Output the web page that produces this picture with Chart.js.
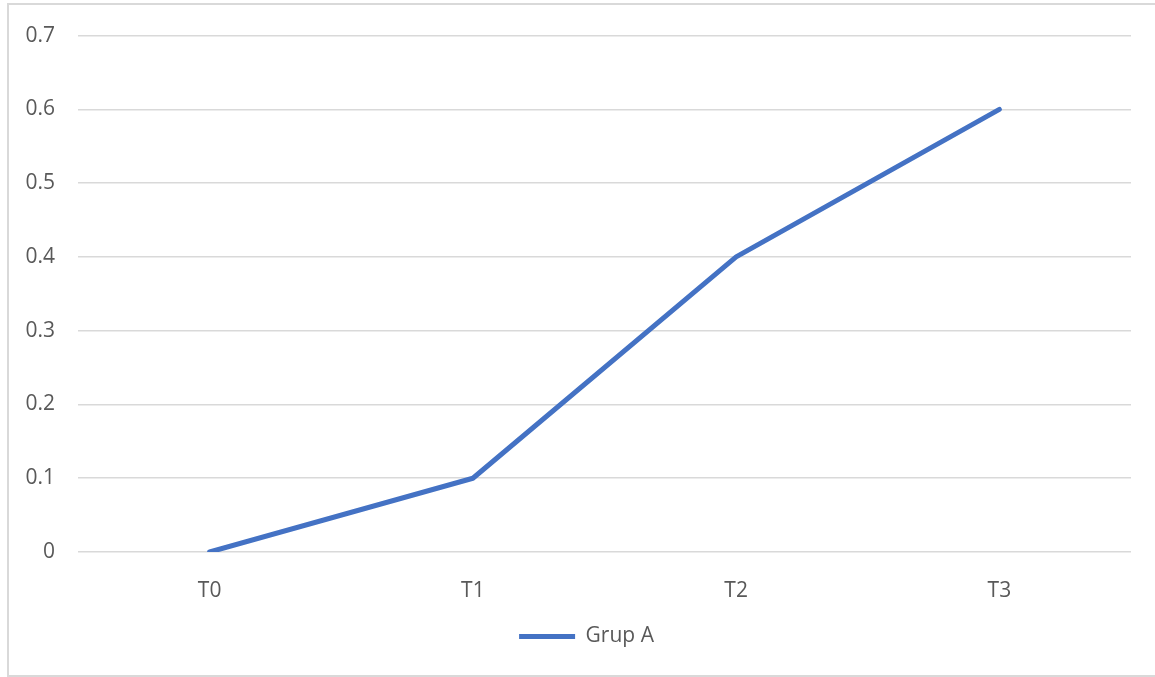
<!DOCTYPE html>
<html>
<head>
<meta charset="utf-8">
<script src="https://cdn.jsdelivr.net/npm/chart.js@4.4.1/dist/chart.umd.min.js"></script>
<style>
  html, body { margin: 0; padding: 0; background: #ffffff; }
  #frame {
    position: absolute; left: 7px; top: 3px; width: 1160px; height: 670px;
    border: 2px solid #d9d9d9; box-sizing: content-box;
  }
  #wrap { position: absolute; left: 0; top: 0; width: 1155px; height: 677px; }
</style>
</head>
<body>
<div id="frame"></div>
<div id="wrap"><canvas id="chart" width="1155" height="677"></canvas></div>
<script>
// Categories and series
const timepoints = ['T0', 'T1', 'T2', 'T3'];
const grupA = [0, 0.1, 0.4, 0.6];
const yTicks = [0, 0.1, 0.2, 0.3, 0.4, 0.5, 0.6, 0.7];

const textColor = '#595959';
const fontFamily = '"Open Sans", "Liberation Sans", sans-serif';

// Center the legend under the whole frame rather than the padded canvas
const legendShift = {
  id: 'legendShift',
  afterLayout(chart) {
    const lg = chart.legend;
    if (lg) { lg.left += 21; lg.right += 21; }
  }
};

new Chart(document.getElementById('chart'), {
  type: 'line',
  data: {
    labels: timepoints,
    datasets: [{
      label: 'Grup A',
      data: grupA,
      borderColor: '#4472C4',
      backgroundColor: '#4472C4',
      borderWidth: 5,
      borderCapStyle: 'round',
      borderJoinStyle: 'round',
      pointRadius: 0,
      pointHoverRadius: 0,
      tension: 0,
      fill: false
    }]
  },
  plugins: [legendShift],
  options: {
    responsive: false,
    animation: false,
    layout: { padding: { left: 0, top: 33, right: 24, bottom: 20 } },
    plugins: {
      tooltip: { enabled: false },
      legend: {
        position: 'bottom',
        labels: {
          usePointStyle: true,
          pointStyle: 'line',
          pointStyleWidth: 56,
          boxHeight: 21,
          padding: 0,
          color: textColor,
          font: { family: fontFamily, size: 21 }
        }
      }
    },
    scales: {
      x: {
        offset: true,
        grid: { display: false },
        border: { display: false },
        ticks: {
          color: textColor,
          padding: 18,
          font: { family: fontFamily, size: 21 }
        },
        afterFit(s) { s.height = 74; }
      },
      y: {
        min: 0,
        max: 0.7,
        afterBuildTicks(s) { s.ticks = yTicks.map(v => ({ value: v })); },
        grid: { color: '#d9d9d9', lineWidth: 1.5, drawTicks: false },
        border: { display: false },
        ticks: {
          color: textColor,
          padding: 23,
          font: { family: fontFamily, size: 21 },
          callback: v => String(v)
        },
        afterFit(s) { s.width = 78; }
      }
    }
  }
});
</script>
</body>
</html>
